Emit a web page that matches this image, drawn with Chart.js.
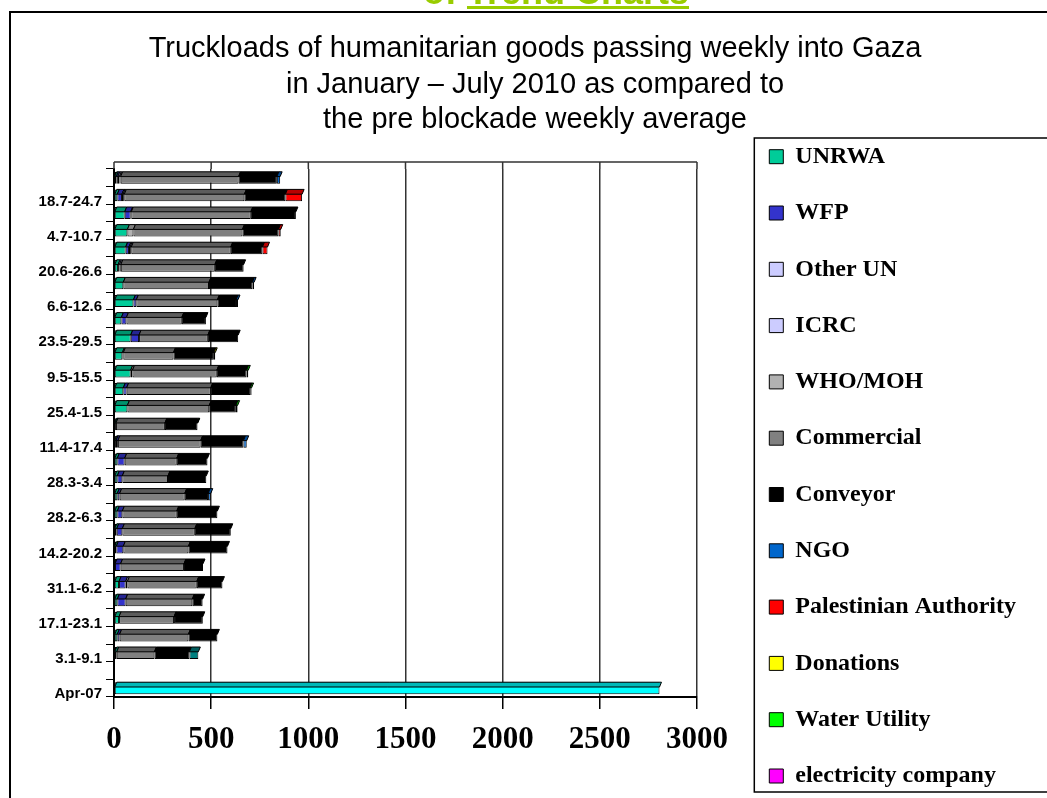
<!DOCTYPE html>
<html><head><meta charset="utf-8">
<script src="https://cdn.jsdelivr.net/npm/chart.js@4.4.1/dist/chart.umd.min.js"></script>
<style>
html,body{margin:0;padding:0;background:#fff;}
#wrap{position:relative;width:1047px;height:798px;overflow:hidden;background:#fff;}
#frame{position:absolute;left:9px;top:11px;width:1100px;height:850px;border:2px solid #000;box-sizing:border-box;}
#hdr{position:absolute;left:423px;top:-26px;font:bold 36px "Liberation Sans",Arial,sans-serif;line-height:36px;color:#99CC00;white-space:nowrap;z-index:2;}
#hdr u{text-decoration:underline;}
canvas{position:absolute;left:0;top:0;z-index:1;}
</style></head><body>
<div id="wrap"><div id="frame"></div><canvas id="c" width="1047" height="798"></canvas><div id="hdr">of <u>Trend Charts</u></div></div>
<script>
// categories, bottom (index 0) to top
const categories = ['Apr-07','','3.1-9.1','10.1-16.1','17.1-23.1','24.1-30.1','31.1-6.2','7.2-13.2','14.2-20.2','21.2-27.2','28.2-6.3','14.3-20.3','28.3-3.4','4.4-10.4','11.4-17.4','18.4-24.4','25.4-1.5','2.5-8.5','9.5-15.5','16.5-22.5','23.5-29.5','30.5-5.6','6.6-12.6','13.6-19.6','20.6-26.6','27.6-3.7','4.7-10.7','11.7-17.7','18.7-24.7','25.7-31.7'];

const unrwa       = [0,0,14,17,26,17,26,5,12,14,17,17,17,17,10,10,69,48,86,43,86,38,100,48,21,60,69,55,17,12];
const wfp         = [0,0,0,12,0,43,34,29,36,29,26,12,26,38,10,0,0,17,0,0,43,26,15,0,0,17,0,31,24,8];
const otherUN     = [0,0,0,0,0,0,9,0,0,0,0,0,0,0,0,0,0,0,0,5,0,0,0,0,7,6,0,3,6,8];
const icrc        = [0,0,0,0,0,0,0,0,0,0,0,0,0,0,0,0,0,0,0,0,0,0,0,0,7,6,0,0,6,6];
const whoMoh      = [0,0,0,0,0,0,0,0,0,0,0,0,0,0,0,0,0,0,9,0,0,0,0,0,0,0,31,0,0,0];
const commercial  = [0,0,194,354,283,343,357,326,335,373,280,335,235,268,426,252,421,433,434,258,354,285,417,441,484,512,561,615,618,607];
const conveyor    = [0,0,180,149,148,53,132,98,201,185,209,120,197,158,220,167,137,203,153,208,156,124,96,223,148,163,185,232,211,197];
const ngo         = [0,0,0,0,0,0,0,0,0,0,0,14,0,0,17,0,0,0,0,0,0,0,10,9,0,0,0,0,0,17];
const pa          = [0,0,0,0,0,0,0,0,0,0,0,0,0,0,0,0,0,0,0,0,0,0,0,0,0,26,12,0,86,0];
const donations   = [0,0,0,0,0,0,0,0,0,0,0,0,0,0,0,0,0,0,0,7,0,0,0,0,0,0,0,0,0,0];
const water       = [0,0,0,0,0,0,0,0,0,0,0,0,0,0,0,2,9,7,9,0,0,0,0,0,0,0,0,0,0,0];
const electricity = [0,0,0,0,0,0,0,0,0,0,0,0,0,0,0,0,0,0,0,0,0,0,0,0,0,0,0,0,0,0];
const others      = [0,0,46,0,0,0,0,0,0,0,0,0,0,0,0,0,0,0,0,0,0,0,0,0,0,0,0,0,0,0];
const preBlockade = [2807,0,0,0,0,0,0,0,0,0,0,0,0,0,0,0,0,0,0,0,0,0,0,0,0,0,0,0,0,0];

const xTicks = [0,500,1000,1500,2000,2500,3000];
const titleLines = ['Truckloads of humanitarian goods passing weekly into Gaza','in January \u2013 July 2010 as compared to','the pre blockade weekly average'];

const nz = a => a.map(v => v === 0 ? null : v);
const series = [
  ['UNRWA', unrwa, '#00CC99'],
  ['WFP', wfp, '#3333CC'],
  ['Other UN', otherUN, '#CCCCFF'],
  ['ICRC', icrc, '#CCCCFF'],
  ['WHO/MOH', whoMoh, '#B2B2B2'],
  ['Commercial', commercial, '#808080'],
  ['Conveyor', conveyor, '#000000'],
  ['NGO', ngo, '#0066CC'],
  ['Palestinian Authority', pa, '#FF0000'],
  ['Donations', donations, '#FFFF00'],
  ['Water Utility', water, '#00FF00'],
  ['electricity company', electricity, '#FF00FF'],
  ['Others', others, '#008080'],
  ['Pre blockade weekly average', preBlockade, '#00FFFF']
];
const LEGEND_COUNT = 12;
const LEGEND_W = 310;

function shade(hex, f){
  const n = parseInt(hex.slice(1),16);
  const r = Math.round(((n>>16)&255)*f), g = Math.round(((n>>8)&255)*f), b = Math.round((n&255)*f);
  return 'rgb('+r+','+g+','+b+')';
}

const bar3d = {
  id:'bar3d',
  afterDatasetsDraw(chart){
    const ctx = chart.ctx;
    ctx.save();
    chart.data.datasets.forEach((ds, di) => {
      const meta = chart.getDatasetMeta(di);
      if (meta.hidden) return;
      meta.data.forEach((el, i) => {
        if (ds.data[i] == null) return;
        const p = el.getProps(['x','y','base','height'], true);
        const top = p.y - p.height/2;
        const th = p.height*0.4;
        const l = Math.min(p.x, p.base), r = Math.max(p.x, p.base);
        ctx.fillStyle = shade(ds.backgroundColor, 0.72);
        ctx.beginPath();
        ctx.moveTo(l, top+th); ctx.lineTo(l+2, top); ctx.lineTo(r+2, top); ctx.lineTo(r, top+th); ctx.closePath();
        ctx.fill();
        ctx.strokeStyle = '#000'; ctx.lineWidth = 1; ctx.stroke();
      });
    });
    ctx.restore();
  }
};

const wall = {
  id:'wall',
  beforeDatasetsDraw(chart){
    const {ctx, chartArea:a, scales} = chart;
    const x = scales.x;
    ctx.save();
    ctx.strokeStyle = '#333'; ctx.lineWidth = 1.5;
    ctx.beginPath();
    ctx.moveTo(a.left, a.top-7); ctx.lineTo(a.right, a.top-7);
    x.ticks.forEach(t => { const px = x.getPixelForValue(t.value); ctx.moveTo(px, a.top-7); ctx.lineTo(px, a.top); });
    ctx.stroke();
    ctx.restore();
  }
};

const legendBox = {
  id:'legendBox',
  beforeLayout(chart){
    const lg = chart.legend;
    if (lg && !lg._wfix){ const f = lg.fit; lg.fit = function(){ f.call(this); this.width = LEGEND_W; }; lg._wfix = true; }
  },
  afterDraw(chart){
    const lg = chart.legend; const hb = lg && lg.legendHitBoxes;
    if (!hb || !hb.length) return;
    const first = hb[0], last = hb[hb.length-1];
    const ctx = chart.ctx;
    ctx.save(); ctx.strokeStyle = '#000'; ctx.lineWidth = 1.5;
    const top = first.top - 6.7, bottom = last.top + last.height + 4;
    ctx.strokeRect(first.left - 15, top, 400, bottom - top);
    ctx.restore();
  }
};

new Chart(document.getElementById('c'), {
  type:'bar',
  data:{
    labels: categories,
    datasets: series.map(s => ({label:s[0], data:nz(s[1]), backgroundColor:s[2], borderColor:'#000', borderWidth:1, borderSkipped:false, xAxisID:'x', yAxisID:'y'}))
  },
  options:{
    indexAxis:'y', responsive:false, animation:false, devicePixelRatio:1,
    layout:{padding:{left:23,right:0,top:0,bottom:-40}},
    datasets:{bar:{barPercentage:0.68, categoryPercentage:1}},
    scales:{
      x:{type:'linear', stacked:true, min:0, max:3000,
        afterBuildTicks(s){ s.ticks = xTicks.map(v => ({value:v})); },
        afterFit(s){ s.height = 141; },
        grid:{color:'#333', lineWidth:1.5, drawTicks:true, tickLength:12, tickColor:'#000'},
        border:{display:true, color:'#000', width:2},
        ticks:{color:'#000', padding:12, callback:(v) => String(v),
          font:{family:'"Liberation Serif", "Times New Roman", serif', size:31, weight:'bold'}}
      },
      y:{type:'category', stacked:true, reverse:true,
        afterFit(s){ s.width = 91; },
        grid:{display:true, drawOnChartArea:false, drawTicks:true, tickLength:8, color:'#000', offset:true},
        border:{display:true, color:'#000', width:2},
        ticks:{autoSkip:false, color:'#000', padding:4, labelOffset:6,
          font:{family:'"Liberation Sans", Arial, sans-serif', size:15, weight:'bold'},
          callback:(v,i) => i % 2 === 0 ? categories[i] : ''}
      },
      pad:{type:'linear', axis:'y', position:'right', display:true,
        afterFit(s){ s.width = 40; },
        grid:{display:false, drawTicks:false}, ticks:{display:false}, border:{display:false}}
    },
    plugins:{
      title:{display:true, text:titleLines, color:'#000',
        font:{family:'"Liberation Sans", Arial, sans-serif', size:29, weight:'normal', lineHeight:1.224},
        padding:{top:31.5,bottom:31}},
      legend:{display:true, position:'right', align:'start',
        title:{display:true, text:'', font:{size:10, lineHeight:1}, padding:{top:102.4,bottom:0}},
        labels:{color:'#000', boxWidth:14, boxHeight:14, padding:32.3,
          font:{family:'"Liberation Serif", "Times New Roman", serif', size:24, weight:'bold'},
          filter:(item) => item.datasetIndex < LEGEND_COUNT}},
      tooltip:{enabled:false}
    }
  },
  plugins:[bar3d, wall, legendBox]
});
</script>
</body></html>
